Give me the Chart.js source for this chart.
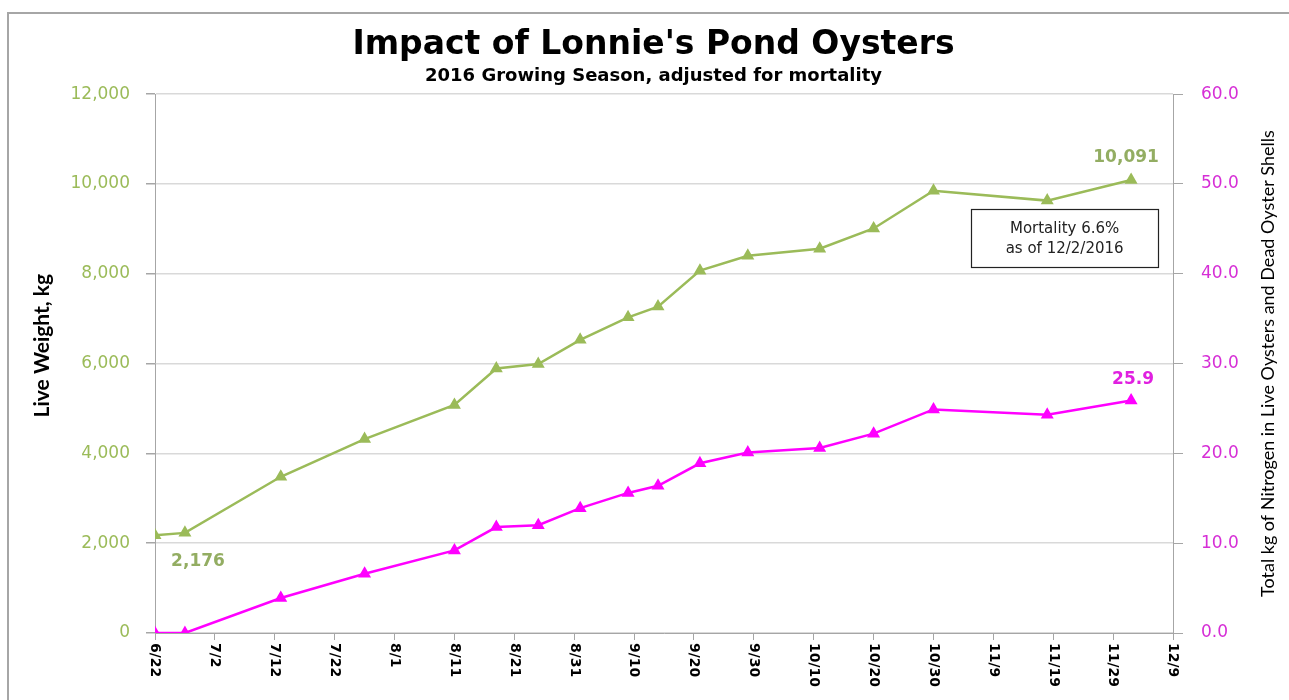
<!DOCTYPE html>
<html>
<head>
<meta charset="utf-8">
<title>Impact of Lonnie's Pond Oysters</title>
<script src="https://cdn.jsdelivr.net/npm/chart.js@4.4.1/dist/chart.umd.min.js"></script>
<style>
  html, body { margin: 0; padding: 0; background: #fff; }
  #wrap { position: relative; width: 1289px; height: 700px; overflow: hidden; }
  #frame { position: absolute; left: 7px; top: 12px; width: 1300px; height: 700px; border: 2px solid #a6a6a6; box-sizing: border-box; pointer-events: none; }
  canvas { position: absolute; left: 0; top: 0; }
</style>
</head>
<body>
<div id="wrap">
  <canvas id="grafico" width="1289" height="700"></canvas>
  <div id="frame"></div>
</div>
<script>
// datas das amostras (temporada 2016)
const datasAmostra = ['6/22', '6/27', '7/13', '7/27', '8/11', '8/18', '8/25', '9/1', '9/9',
                      '9/14', '9/21', '9/29', '10/11', '10/20', '10/30', '11/18', '12/2'];
// peso vivo, kg (eixo esquerdo)
const pesoVivo = [2176, 2230, 3480, 4320, 5080, 5890, 5990, 6530, 7030,
                  7270, 8070, 8400, 8560, 9010, 9850, 9630, 10091];
// kg de nitrogênio (eixo direito)
const nitrogenio = [0, 0, 3.9, 6.6, 9.2, 11.8, 12.0, 13.9, 15.6,
                    16.4, 18.9, 20.1, 20.6, 22.2, 24.9, 24.3, 25.9];
// rótulos do eixo X (a cada 10 dias)
const rotulosX = ['6/22', '7/2', '7/12', '7/22', '8/1', '8/11', '8/21', '8/31', '9/10',
                  '9/20', '9/30', '10/10', '10/20', '10/30', '11/9', '11/19', '11/29', '12/9'];

const verde = '#9bbb59';
const rosa = '#ff00ff';
const tituloEsquerdo = 'Live Weight, kg';
const tituloDireito = 'Total kg of Nitrogen in Live Oysters and Dead Oyster Shells';

// converte 'm/d' em dias desde 6/22
function diasDesdeInicio(str) {
    const [m, d] = str.split('/').map(Number);
    return Math.round((Date.UTC(2016, m - 1, d) - Date.UTC(2016, 5, 22)) / 86400000);
}
const dias = datasAmostra.map(diasDesdeInicio);
const pontosPeso = dias.map((x, i) => ({ x: x, y: pesoVivo[i] }));
const pontosN = dias.map((x, i) => ({ x: x, y: nitrogenio[i] }));

// caixa de nota (em unidades dos eixos)
const nota = { diaIni: 136.3, diaFim: 167.5, pesoTopo: 9440, pesoBase: 8150 };

const rotulosPlugin = {
    id: 'rotulos',
    afterDraw(chart) {
        const c = chart.ctx;
        const sx = chart.scales.x, sy = chart.scales.y, sy1 = chart.scales.y1;

        // rótulos do eixo X girados no sentido horário
        c.save();
        c.font = 'bold 14px "DejaVu Sans"';
        c.fillStyle = '#000';
        c.textAlign = 'left';
        c.textBaseline = 'middle';
        sx.ticks.forEach(t => {
            const px = sx.getPixelForValue(t.value);
            c.save();
            c.translate(px, sx.top + 10);
            c.rotate(Math.PI / 2);
            c.fillText(rotulosX[Math.round(t.value / 10)], 0, 0);
            c.restore();
        });
        c.restore();

        // títulos dos eixos (lidos de baixo para cima)
        c.save();
        c.fillStyle = '#000';
        c.textAlign = 'center';
        c.textBaseline = 'middle';
        c.font = 'bold 21px Lato';
        c.save();
        c.translate(sy.left + 15, sy.getPixelForValue(6400));
        c.rotate(-Math.PI / 2);
        c.fillText(tituloEsquerdo, 0, 0);
        c.restore();
        c.font = '18px Lato';
        c.translate(sy1.right - 12, (chart.chartArea.top + chart.chartArea.bottom) / 2);
        c.rotate(-Math.PI / 2);
        c.fillText(tituloDireito, 0, 0);
        c.restore();

        // rótulos de dados
        c.save();
        c.textAlign = 'center';
        c.textBaseline = 'middle';
        c.font = 'bold 17px "DejaVu Sans"';
        c.fillStyle = '#93ad62';
        let px = sx.getPixelForValue(dias[0]);
        let py = sy.getPixelForValue(pesoVivo[0]);
        c.fillText(pesoVivo[0].toLocaleString('en-US'), px + 43, py + 26);
        const u = dias.length - 1;
        px = sx.getPixelForValue(dias[u]);
        py = sy.getPixelForValue(pesoVivo[u]);
        c.fillText(pesoVivo[u].toLocaleString('en-US'), px - 5, py - 22);
        c.fillStyle = '#e020e0';
        py = sy1.getPixelForValue(nitrogenio[u]);
        c.fillText(nitrogenio[u].toFixed(1), px + 2, py - 21);
        c.restore();

        // nota de mortalidade
        const x0 = sx.getPixelForValue(nota.diaIni), x1 = sx.getPixelForValue(nota.diaFim);
        const y0 = sy.getPixelForValue(nota.pesoTopo), y1 = sy.getPixelForValue(nota.pesoBase);
        c.save();
        c.fillStyle = '#fff';
        c.fillRect(x0, y0, x1 - x0, y1 - y0);
        c.strokeStyle = '#222';
        c.lineWidth = 1.2;
        c.strokeRect(Math.round(x0) + 0.5, Math.round(y0) + 0.5, Math.round(x1 - x0), Math.round(y1 - y0));
        c.fillStyle = '#222';
        c.font = '15px "DejaVu Sans"';
        c.textAlign = 'center';
        c.textBaseline = 'middle';
        const cx = (x0 + x1) / 2;
        c.fillText('Mortality 6.6%', cx, y0 + 20);
        c.fillText('as of 12/2/2016', cx, y0 + 40);
        c.restore();
    }
};

const ctx = document.getElementById('grafico').getContext('2d');
window.graficoOstras = new Chart(ctx, {
    type: 'line',
    data: {
        datasets: [
            {
                label: 'Live Weight, kg',
                data: pontosPeso,
                yAxisID: 'y',
                borderColor: verde,
                backgroundColor: verde,
                borderWidth: 2.5,
                pointStyle: 'triangle',
                pointRadius: 5,
                tension: 0
            },
            {
                label: 'Total kg of Nitrogen',
                data: pontosN,
                yAxisID: 'y1',
                borderColor: rosa,
                backgroundColor: rosa,
                borderWidth: 2.5,
                pointStyle: 'triangle',
                pointRadius: 5,
                tension: 0
            }
        ]
    },
    options: {
        responsive: false,
        animation: false,
        layout: { padding: { left: 27, right: 9, top: 12, bottom: 0 } },
        plugins: {
            legend: { display: false },
            tooltip: { enabled: false },
            title: {
                display: true,
                text: "Impact of Lonnie's Pond Oysters",
                color: '#000',
                font: { family: 'DejaVu Sans', size: 33, weight: 'bold', lineHeight: 1.2 },
                padding: { top: 14, bottom: 0 }
            },
            subtitle: {
                display: true,
                text: '2016 Growing Season, adjusted for mortality',
                color: '#000',
                font: { family: 'DejaVu Sans', size: 18, weight: 'bold', lineHeight: 1.2 },
                padding: { top: 0, bottom: 7 }
            }
        },
        scales: {
            x: {
                type: 'linear',
                min: 0,
                max: 170,
                afterFit: s => { s.height = 67; },
                ticks: {
                    stepSize: 10,
                    autoSkip: false,
                    minRotation: 90,
                    maxRotation: 90,
                    color: 'rgba(0,0,0,0)',
                    font: { family: 'DejaVu Sans', size: 14, weight: 'bold' },
                    callback: v => rotulosX[Math.round(v / 10)]
                },
                grid: { drawOnChartArea: false, tickLength: 7, tickColor: '#a6a6a6' },
                border: { color: '#a6a6a6', width: 1 }
            },
            y: {
                position: 'left',
                min: 0,
                max: 12000,
                afterFit: s => { s.width = 128; },
                ticks: {
                    stepSize: 2000,
                    padding: 16,
                    color: '#9bbb59',
                    font: { family: 'DejaVu Sans', size: 17 },
                    callback: v => v.toLocaleString('en-US')
                },
                grid: { color: '#d9d9d9', lineWidth: 1.5, tickLength: 9, tickColor: '#a6a6a6' },
                border: { color: '#a6a6a6', width: 1 }
            },
            y1: {
                position: 'right',
                min: 0,
                max: 60,
                afterFit: s => { s.width = 107; },
                ticks: {
                    stepSize: 10,
                    padding: 18,
                    color: '#d62ed6',
                    font: { family: 'DejaVu Sans', size: 17 },
                    callback: v => v.toFixed(1)
                },
                grid: { drawOnChartArea: false, tickLength: 10, tickColor: '#a6a6a6' },
                border: { color: '#a6a6a6', width: 1 }
            }
        }
    },
    plugins: [rotulosPlugin]
});
</script>
</body>
</html>
